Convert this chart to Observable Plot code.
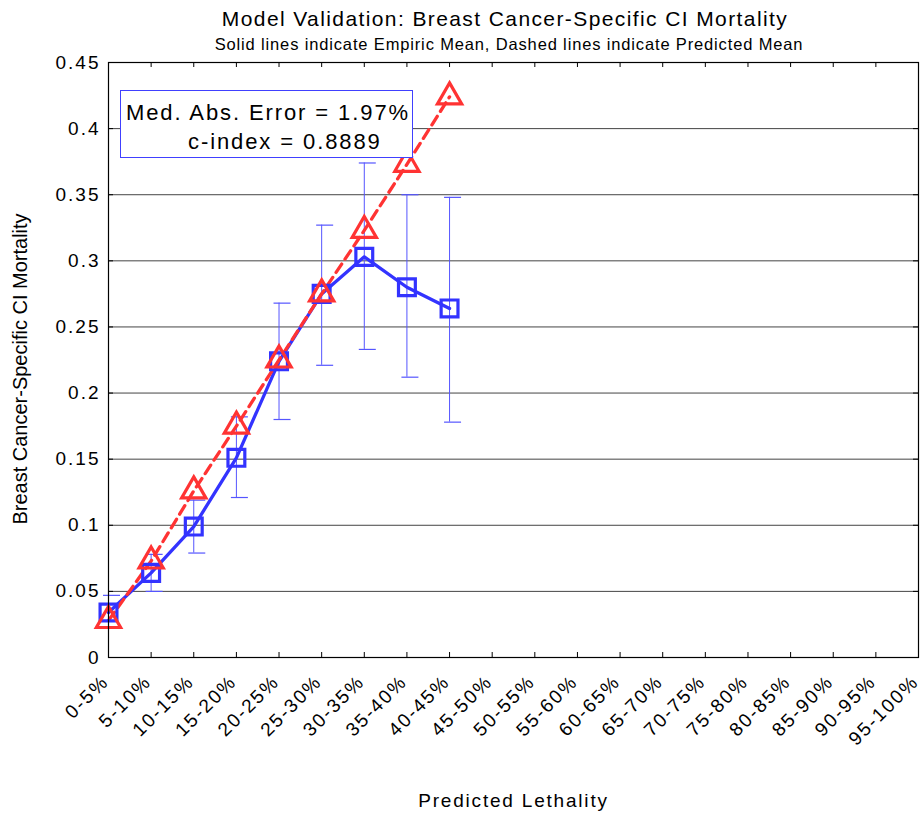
<!DOCTYPE html>
<html>
<head>
<meta charset="utf-8">
<script src="https://cdn.jsdelivr.net/npm/d3@7"></script>
<script src="https://cdn.jsdelivr.net/npm/@observablehq/plot@0.6"></script>
<style>
  html, body { margin: 0; padding: 0; background: #fff; }
  #wrap { position: relative; width: 922px; height: 813px; font-family: "Liberation Sans", Arial, sans-serif; }
  #title { position: absolute; left: 0; width: 1010px; top: 7px; text-align: center; font-size: 21px; letter-spacing: 1.4px; color: #000; white-space: nowrap; }
  #subtitle { position: absolute; left: 0; width: 1018px; top: 35px; text-align: center; font-size: 16.5px; letter-spacing: 0.85px; color: #000; white-space: nowrap; }
  #chart { position: absolute; left: 0; top: 45px; }
  #legend { position: absolute; left: 120px; top: 90px; width: 293px; height: 68px; border: 1.5px solid #4040ff; background: #fff; font-size: 22px; letter-spacing: 1.9px; line-height: 29px; padding-top: 7px; box-sizing: border-box; }
  #legend div { white-space: pre; }
  .c g[aria-label="y-axis tick label"] text { letter-spacing: 2px; }
  .c g[aria-label="x-axis tick label"] text { letter-spacing: 2px; }
  .c g[aria-label="x-axis label"] text { letter-spacing: 1.8px; }
  .c g[aria-label="ylabel"] text { letter-spacing: 2px; }
</style>
</head>
<body>
<div id="wrap">
  <div id="chart"></div>
  <div id="title">Model Validation: Breast Cancer-Specific CI Mortality</div>
  <div id="subtitle">Solid lines indicate Empiric Mean, Dashed lines indicate Predicted Mean</div>
  <div id="legend"><div style="padding-left:5px">Med. Abs. Error = 1.97%</div><div style="padding-left:67px">c-index = 0.8889</div></div>
</div>
<script>
const categories = ["0-5%","5-10%","10-15%","15-20%","20-25%","25-30%","30-35%","35-40%","40-45%","45-50%","50-55%","55-60%","60-65%","65-70%","70-75%","75-80%","80-85%","85-90%","90-95%","95-100%"];
const observedCategories = ["0-5%","5-10%","10-15%","15-20%","20-25%","25-30%","30-35%","35-40%","40-45%"];
const empiricMean = [0.034, 0.064, 0.099, 0.151, 0.224, 0.275, 0.303, 0.280, 0.264];
const empiricLower = [0.022, 0.050, 0.079, 0.121, 0.180, 0.221, 0.233, 0.212, 0.178];
const empiricUpper = [0.047, 0.078, 0.119, 0.182, 0.268, 0.327, 0.374, 0.350, 0.348];
const predictedMean = [0.028, 0.073, 0.126, 0.175, 0.225, 0.275, 0.323, 0.373, 0.424];
const yTicks = [0, 0.05, 0.1, 0.15, 0.2, 0.25, 0.3, 0.35, 0.4, 0.45];
const yLabel = "Breast Cancer-Specific CI Mortality";
const xLabel = "Predicted Lethality";

const rows = observedCategories.map((c, i) => ({
  cat: c, emp: empiricMean[i], lo: empiricLower[i], hi: empiricUpper[i], pred: predictedMean[i]
}));

const blue = "#3333ff";
const red = "#ff3333";
const W = 922, H = 768;
const mL = 108, mR = 4, mT = 17, mB = 156;
const innerW = W - mL - mR, innerH = H - mT - mB;

const chart = Plot.plot({
  className: "c",
  width: W,
  height: H,
  marginLeft: mL,
  marginRight: mR,
  marginTop: mT,
  marginBottom: mB,
  style: { fontFamily: "Liberation Sans, Arial, sans-serif", fontSize: "19px", color: "#000", background: "transparent" },
  x: { type: "point", domain: categories, padding: 0, round: false },
  y: { domain: [0, 0.45] },
  marks: [
    Plot.gridY(yTicks.slice(1, -1), { stroke: "#444", strokeOpacity: 1, strokeWidth: 1 }),
    Plot.axisX({ tickSize: 0, tickPadding: 21, dx: -3, tickRotate: -45, fontSize: 19, label: xLabel, labelAnchor: "center", labelArrow: "none", labelOffset: 149 }),
    Plot.axisY(yTicks, { tickSize: 0, tickPadding: 8, fontSize: 19, tickFormat: d => String(+d.toFixed(2)), label: null }),
    Plot.text([yLabel], { ariaLabel: "ylabel", text: d => d, frameAnchor: "left", rotate: -90, dx: -88, dy: 9, fontSize: 20, textAnchor: "middle" }),
    // inside tick marks
    Plot.ruleX(categories, { x: d => d, insetTop: innerH - 5, stroke: "#000" }),
    Plot.ruleX(categories, { x: d => d, insetBottom: innerH - 5, stroke: "#000" }),
    Plot.ruleY(yTicks, { y: d => d, insetRight: innerW - 5, stroke: "#000" }),
    Plot.ruleY(yTicks, { y: d => d, insetLeft: innerW - 5, stroke: "#000" }),
    // error bars
    Plot.ruleX(rows, { x: "cat", y1: "lo", y2: "hi", stroke: "#5555ff", strokeWidth: 1 }),
    Plot.ruleY(rows, { x1: "cat", x2: "cat", y: "hi", insetLeft: -5, insetRight: -12, stroke: "#5555ff", strokeWidth: 1.2 }),
    Plot.ruleY(rows, { x1: "cat", x2: "cat", y: "lo", insetLeft: -5, insetRight: -12, stroke: "#5555ff", strokeWidth: 1.2 }),
    // empiric
    Plot.line(rows, { x: "cat", y: "emp", stroke: blue, strokeWidth: 3.3 }),
    // predicted
    Plot.line(rows, { x: "cat", y: "pred", stroke: red, strokeWidth: 3.3, strokeDasharray: "10,6" }),
    Plot.dot(rows, { x: "cat", y: "emp", symbol: "square", r: 9.5, stroke: blue, strokeWidth: 3.2, fill: "none" }),
    Plot.dot(rows, { x: "cat", y: "pred", symbol: "triangle", r: 9, stroke: red, strokeWidth: 3.2, fill: "none" }),
    Plot.frame({ stroke: "#000", strokeWidth: 1.2 })
  ]
});
document.getElementById("chart").appendChild(chart);
</script>
</body>
</html>
